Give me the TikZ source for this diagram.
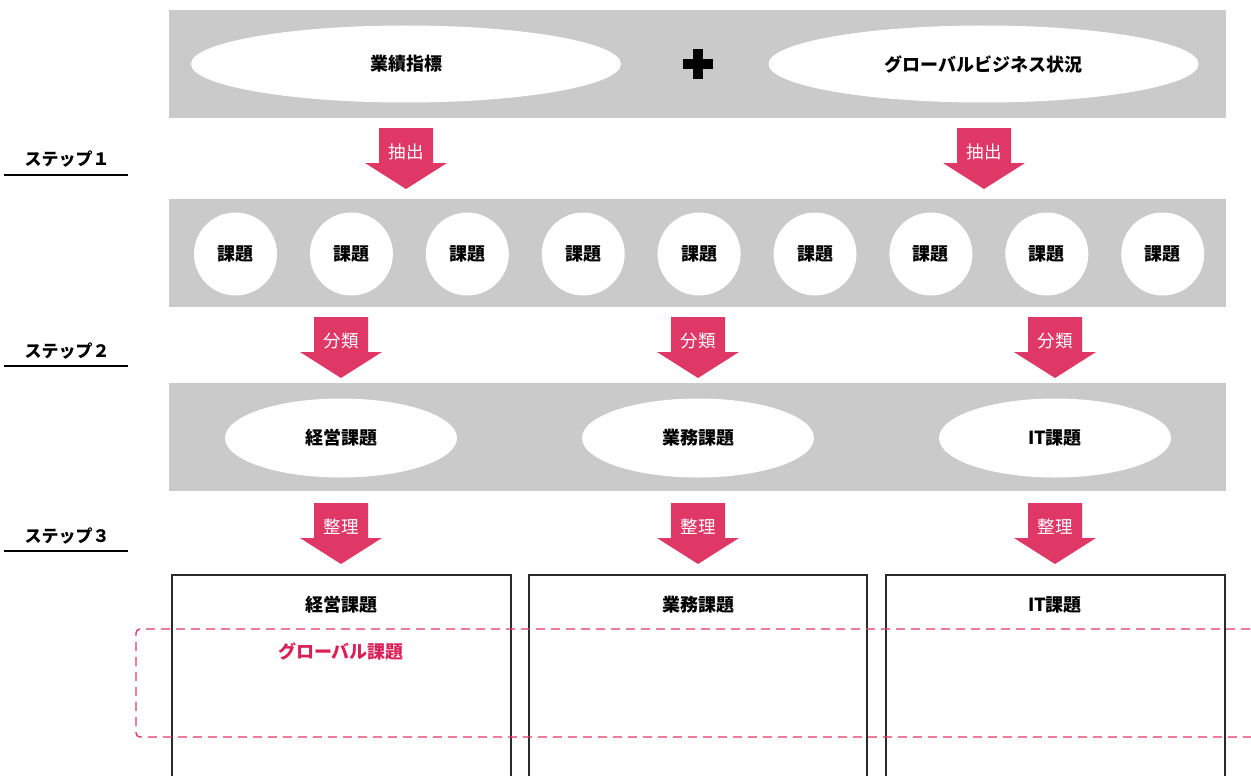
\documentclass[tikz,border=0pt]{standalone}
\usepackage{fontspec}
\setmainfont{Noto Sans CJK JP}
\usetikzlibrary{shapes.geometric}
\definecolor{bandgray}{HTML}{C9CAC9}
\definecolor{pinkc}{HTML}{E03866}
\definecolor{pinktext}{HTML}{D92158}
\definecolor{boxline}{HTML}{2A2A2A}
\tikzset{
  band/.style={fill=bandgray, draw=none},
  oval/.style={ellipse, fill=white, draw=none, inner sep=0pt, font=\fontsize{18}{21}\selectfont\bfseries},
  issue/.style={circle, fill=white, draw=none, inner sep=0pt, minimum size=83pt, font=\fontsize{18}{21}\selectfont\bfseries},
  arrowtext/.style={text=white, inner sep=0pt, font=\fontsize{17.5}{20}\selectfont},
  steplabel/.style={inner sep=0pt, font=\fontsize{17}{20}\selectfont\bfseries},
  stepline/.style={line width=2pt, draw=black},
  resultbox/.style={draw=boxline, line width=1.1pt},
  boxtitle/.style={inner sep=0pt, font=\fontsize{18}{21}\selectfont\bfseries},
  globalbox/.style={draw=pinkc, line width=1.4pt, dash pattern=on 9pt off 6pt, rounded corners=4pt},
  globaltext/.style={inner sep=0pt, text=pinktext, font=\fontsize{18}{21}\selectfont\bfseries},
}
\newcommand\blockarrow[4]{%
  \fill[pinkc] (#1-27,#2) -- (#1+27,#2) -- (#1+27,#2+35) -- (#1+41,#2+35)
    -- (#1,#2+61) -- (#1-41,#2+35) -- (#1-27,#2+35) -- cycle;
  \node[arrowtext] (#4) at (#1,#2+24) {#3};}
\begin{document}
\begin{tikzpicture}[x=1pt,y=-1pt]
\useasboundingbox (0,0) rectangle (1251,776);
\clip (0,0) rectangle (1251,776);

% band 1
\fill[band] (169,10) rectangle (1226,118);
\node[oval, minimum width=430pt, minimum height=77pt] (perf) at (406,64) {業績指標};
\node[oval, minimum width=430pt, minimum height=77pt] (global) at (983.5,64) {グローバルビジネス状況};
\fill[black] (683,59) rectangle (713,69);
\fill[black] (693,49) rectangle (703,79);
\coordinate (plus) at (698,64);

% step 1
\node[steplabel] (s1) at (67,159) {ステップ１};
\coordinate (s1a) at (4,175); \coordinate (s1b) at (128,175);
\draw[stepline] (s1a) -- (s1b);
\blockarrow{406}{128}{抽出}{ex1}
\blockarrow{984}{128}{抽出}{ex2}

% band 2
\fill[band] (169,199) rectangle (1226,307);
\foreach \i in {0,...,8} {
  \node[issue] (c\i) at ({235.5+\i*115.9},254) {課題};
}

% step 2
\node[steplabel] (s2) at (67,351) {ステップ２};
\coordinate (s2a) at (4,366); \coordinate (s2b) at (128,366);
\draw[stepline] (s2a) -- (s2b);
\blockarrow{341}{317}{分類}{cl1}
\blockarrow{698}{317}{分類}{cl2}
\blockarrow{1055}{317}{分類}{cl3}

% band 3
\fill[band] (169,383) rectangle (1226,491);
\node[oval, minimum width=232pt, minimum height=79pt] (mg) at (341,438) {経営課題};
\node[oval, minimum width=232pt, minimum height=79pt] (bz) at (698,438) {業務課題};
\node[oval, minimum width=232pt, minimum height=79pt] (it) at (1055,438) {IT課題};

% step 3
\node[steplabel] (s3) at (67,536) {ステップ３};
\coordinate (s3a) at (4,551); \coordinate (s3b) at (128,551);
\draw[stepline] (s3a) -- (s3b);
\blockarrow{341}{503}{整理}{or1}
\blockarrow{698}{503}{整理}{or2}
\blockarrow{1055}{503}{整理}{or3}

% result boxes
\draw[resultbox] (172,800) -- (172,575) -- (511,575) -- (511,800);
\draw[resultbox] (529,800) -- (529,575) -- (867,575) -- (867,800);
\draw[resultbox] (886,800) -- (886,575) -- (1225,575) -- (1225,800);
\node[boxtitle] (t1) at (341,605) {経営課題};
\node[boxtitle] (t2) at (698,605) {業務課題};
\node[boxtitle] (t3) at (1055,605) {IT課題};

% global band
\draw[globalbox] (1265,629) -- (136,629) -- (136,737) -- (1265,737);
\node[globaltext] (gl) at (341,652) {グローバル課題};
\end{tikzpicture}
\end{document}
